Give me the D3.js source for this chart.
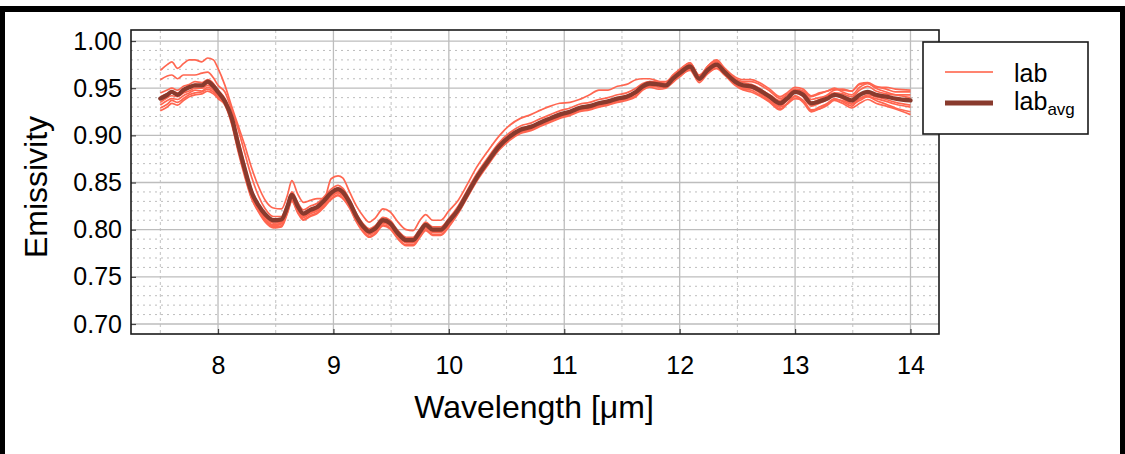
<!DOCTYPE html>
<html>
<head>
<meta charset="utf-8">
<script src="https://cdn.jsdelivr.net/npm/d3@7"></script>
<style>
  html, body { margin: 0; padding: 0; background: #fff; }
  svg { display: block; font-family: "Liberation Sans", Arial, sans-serif; }
</style>
</head>
<body>
<svg id="chart" width="1125" height="454"></svg>
<script>
// ---- data ----
const wavelengths = [7.50,7.56,7.60,7.65,7.70,7.75,7.80,7.86,7.91,7.96,8.00,
  8.06,8.12,8.17,8.23,8.29,8.35,8.41,8.48,8.55,
  8.60,8.64,8.69,8.74,8.80,8.86,8.92,8.98,9.04,9.08,
  9.14,9.20,9.26,9.31,9.36,9.43,9.49,9.56,9.63,9.69,9.75,9.80,9.86,9.93,10.00,
  10.08,10.16,10.24,10.33,10.44,10.53,10.62,10.71,10.80,10.88,10.96,11.05,11.13,11.22,11.30,11.38,11.46,11.54,11.62,
  11.68,11.74,11.82,11.88,11.94,12.01,12.09,12.17,12.24,12.32,12.39,12.48,12.55,12.62,12.69,12.78,
  12.87,12.93,13.00,13.07,13.14,13.21,13.28,13.34,13.41,13.49,13.56,13.63,13.70,13.79,13.87,14.00];

const labAvg = [.939,.943,.946,.943,.948,.951,.953,.953,.957,.952,.946,
  .936,.918,.893,.865,.840,.826,.816,.810,.811,
  .824,.837,.825,.817,.821,.824,.831,.839,.843,.840,
  .829,.814,.803,.798,.801,.810,.807,.796,.789,.789,.798,.805,.800,.800,.809,
  .821,.838,.855,.871,.889,.899,.906,.909,.914,.918,.922,.925,.929,.931,.934,.936,.939,.941,.946,
  .952,.955,.954,.953,.960,.967,.973,.960,.969,.975,.967,.957,.953,.952,.948,.941,
  .934,.939,.946,.943,.934,.936,.939,.943,.941,.937,.943,.946,.943,.941,.939,.937];

const labA = [.969,.975,.978,.971,.976,.980,.980,.978,.982,.980,.971,
  .953,.930,.912,.890,.866,.846,.831,.823,.822,
  .836,.852,.838,.829,.831,.833,.833,.854,.857,.855,
  .840,.825,.814,.808,.812,.822,.819,.808,.800,.799,.810,.816,.810,.810,.820,
  .831,.848,.866,.882,.900,.911,.918,.922,.927,.931,.934,.935,.938,.943,.948,.948,.952,.954,.959,
  .960,.960,.957,.955,.963,.971,.977,.963,.973,.980,.971,.960,.957,.957,.954,.947,
  .939,.943,.949,.947,.941,.944,.947,.949,.948,.947,.955,.956,.952,.949,.946,.946];

const labB = [.959,.963,.964,.960,.964,.964,.964,.966,.967,.961,.953,
  .946,.926,.908,.882,.856,.836,.822,.814,.814,
  .827,.840,.829,.821,.825,.828,.835,.843,.847,.844,
  .832,.817,.806,.801,.804,.813,.810,.799,.792,.792,.801,.808,.803,.803,.812,
  .825,.842,.859,.875,.893,.903,.910,.913,.918,.922,.926,.929,.933,.935,.938,.940,.943,.945,.950,
  .955,.957,.955,.953,.959,.967,.974,.958,.968,.975,.965,.954,.949,.948,.943,.936,
  .928,.934,.942,.937,.926,.930,.934,.939,.936,.931,.939,.941,.937,.933,.929,.925];

const labC = [.945,.948,.950,.948,.952,.954,.957,.956,.959,.955,.948,
  .939,.922,.898,.869,.843,.827,.816,.809,.809,
  .825,.838,.826,.818,.822,.825,.832,.840,.844,.841,
  .829,.814,.803,.798,.801,.810,.806,.795,.788,.788,.797,.804,.799,.799,.808,
  .822,.839,.856,.872,.890,.900,.907,.910,.915,.919,.923,.926,.930,.932,.935,.937,.940,.942,.947,
  .953,.957,.957,.957,.963,.969,.976,.964,.971,.978,.971,.962,.959,.959,.956,.949,
  .941,.945,.951,.949,.942,.945,.947,.950,.946,.943,.951,.955,.951,.951,.949,.948];

const labD = [.941,.944,.946,.945,.948,.951,.954,.952,.955,.952,.946,
  .937,.920,.895,.866,.840,.824,.813,.807,.808,
  .822,.835,.823,.815,.819,.822,.829,.837,.841,.838,
  .827,.812,.801,.796,.799,.808,.805,.794,.787,.787,.796,.803,.798,.798,.807,
  .820,.837,.854,.870,.888,.898,.905,.908,.913,.917,.921,.924,.928,.930,.933,.935,.938,.940,.945,
  .951,.954,.952,.952,.958,.964,.971,.959,.966,.973,.966,.955,.950,.950,.945,.937,
  .930,.933,.939,.937,.927,.928,.932,.937,.934,.929,.934,.938,.934,.931,.928,.922];

const labE = [.935,.940,.942,.941,.945,.947,.950,.950,.953,.950,.944,
  .935,.916,.890,.862,.837,.822,.811,.805,.807,
  .820,.833,.821,.813,.817,.820,.827,.835,.839,.836,
  .826,.811,.800,.795,.798,.807,.804,.793,.786,.786,.795,.802,.797,.797,.806,
  .819,.836,.853,.869,.887,.897,.904,.907,.912,.916,.920,.923,.927,.929,.932,.934,.937,.939,.944,
  .950,.953,.953,.953,.961,.969,.974,.963,.971,.976,.969,.960,.956,.954,.950,.942,
  .936,.940,.948,.946,.938,.940,.942,.945,.944,.941,.948,.952,.947,.944,.943,.943];

const labF = [.932,.937,.939,.938,.942,.945,.948,.947,.951,.948,.942,
  .934,.914,.888,.859,.834,.820,.809,.803,.804,
  .818,.831,.819,.811,.815,.818,.825,.833,.837,.834,
  .824,.809,.798,.793,.796,.805,.802,.791,.784,.784,.793,.800,.795,.795,.804,
  .818,.835,.852,.868,.886,.896,.903,.906,.911,.915,.919,.922,.926,.928,.931,.933,.936,.938,.942,
  .949,.952,.951,.951,.957,.963,.970,.958,.966,.971,.964,.953,.948,.946,.942,.935,
  .927,.933,.941,.935,.925,.928,.933,.938,.937,.933,.937,.941,.939,.936,.933,.930];

const labG = [.929,.933,.937,.935,.939,.943,.945,.946,.949,.946,.941,
  .933,.913,.887,.861,.836,.821,.810,.804,.806,
  .821,.834,.822,.814,.818,.821,.828,.836,.840,.837,
  .828,.812,.801,.796,.799,.808,.806,.795,.787,.787,.796,.803,.798,.799,.807,
  .821,.838,.855,.871,.889,.899,.906,.910,.914,.918,.922,.925,.928,.931,.934,.936,.939,.942,.946,
  .952,.956,.956,.955,.964,.970,.977,.962,.973,.979,.969,.958,.953,.951,.949,.943,
  .937,.943,.948,.943,.935,.938,.943,.948,.949,.947,.954,.955,.950,.946,.943,.940];

const labH = [.926,.930,.934,.932,.937,.941,.943,.944,.947,.944,.939,
  .932,.911,.885,.857,.833,.819,.808,.802,.803,
  .817,.830,.818,.810,.814,.817,.824,.832,.836,.833,
  .823,.808,.797,.792,.795,.804,.801,.790,.783,.783,.792,.799,.794,.794,.803,
  .817,.834,.851,.867,.885,.895,.902,.905,.910,.914,.918,.921,.925,.927,.930,.932,.935,.937,.941,
  .948,.951,.949,.950,.956,.964,.969,.956,.965,.971,.964,.955,.952,.952,.947,.939,
  .931,.937,.945,.941,.931,.934,.938,.943,.939,.934,.939,.943,.941,.938,.935,.932];

const labSeries = [labA, labB, labC, labD, labE, labF, labG, labH];

const xTicks = [8, 9, 10, 11, 12, 13, 14];
const yTicks = [0.70, 0.75, 0.80, 0.85, 0.90, 0.95, 1.00];
const legendLabels = ["lab", "lab", "avg"];

// ---- layout ----
const svg = d3.select("#chart");
const W = 1125, H = 454;
const plot = { left: 131, top: 30, right: 939, bottom: 334 };

const labColor = "#FF6650";
const labLegendColor = "#FF8470";
const avgColor = "#893A2D";

// frame
svg.append("rect").attr("x", 0).attr("y", 6).attr("width", W).attr("height", 6).attr("fill", "#000");
svg.append("rect").attr("x", 0).attr("y", 6).attr("width", 5).attr("height", H - 6).attr("fill", "#000");
svg.append("rect").attr("x", W - 5).attr("y", 6).attr("width", 5).attr("height", H - 6).attr("fill", "#000");

const x = d3.scaleLinear().domain([7.246, 14.247]).range([plot.left, plot.right]);
const y = d3.scaleLinear().domain([0.6894, 1.0117]).range([plot.bottom, plot.top]);

const g = svg.append("g");

// minor horizontal grid (every 0.01)
const yMinor = d3.range(70, 101).map(v => v / 100).filter(v => Math.round(v * 100) % 5 !== 0);
g.selectAll(".ymin").data(yMinor).join("line")
  .attr("x1", plot.left).attr("x2", plot.right)
  .attr("y1", d => y(d)).attr("y2", d => y(d))
  .attr("stroke", "#bdbdbd").attr("stroke-width", 1).attr("stroke-dasharray", "2,4");

// minor vertical grid (half units)
const xMinor = [7.5, 8.5, 9.5, 10.5, 11.5, 12.5, 13.5];
g.selectAll(".xmin").data(xMinor).join("line")
  .attr("x1", d => x(d)).attr("x2", d => x(d))
  .attr("y1", plot.top).attr("y2", plot.bottom)
  .attr("stroke", "#c2c2c2").attr("stroke-width", 1).attr("stroke-dasharray", "3,3");

// major grid
g.selectAll(".ymaj").data(yTicks).join("line")
  .attr("x1", plot.left).attr("x2", plot.right)
  .attr("y1", d => y(d)).attr("y2", d => y(d))
  .attr("stroke", "#bdbdbd").attr("stroke-width", 1.3);
g.selectAll(".xmaj").data(xTicks).join("line")
  .attr("x1", d => x(d)).attr("x2", d => x(d))
  .attr("y1", plot.top).attr("y2", plot.bottom)
  .attr("stroke", "#bdbdbd").attr("stroke-width", 1.3);

// lines
const line = d3.line()
  .x((d, i) => x(wavelengths[i]))
  .y(d => y(d))
  .curve(d3.curveMonotoneX);

g.selectAll(".lab").data(labSeries).join("path")
  .attr("d", d => line(d))
  .attr("fill", "none")
  .attr("stroke", labColor)
  .attr("stroke-width", 1.7)
  .attr("stroke-linejoin", "round");

g.append("path")
  .attr("d", line(labAvg))
  .attr("fill", "none")
  .attr("stroke", avgColor)
  .attr("stroke-width", 4.3)
  .attr("stroke-linejoin", "round")
  .attr("stroke-linecap", "round");

// axes
const yAxis = d3.axisLeft(y).tickValues(yTicks).tickFormat(d3.format(".2f"))
  .tickSizeInner(-5).tickSizeOuter(0).tickPadding(9);
const yg = svg.append("g").attr("transform", `translate(${plot.left},0)`).call(yAxis);
yg.select(".domain").remove();
yg.selectAll("line").attr("stroke", "#444").attr("stroke-width", 1.2);
yg.selectAll("text").attr("font-size", 25).attr("fill", "#000")
  .attr("font-family", "'Liberation Sans', Arial, sans-serif");

const xAxis = d3.axisBottom(x).tickValues(xTicks).tickFormat(d3.format("d"))
  .tickSizeInner(-5).tickSizeOuter(0).tickPadding(22);
const xg = svg.append("g").attr("transform", `translate(0,${plot.bottom})`).call(xAxis);
xg.select(".domain").remove();
xg.selectAll("line").attr("stroke", "#444").attr("stroke-width", 1.2);
xg.selectAll("text").attr("font-size", 25).attr("fill", "#000")
  .attr("font-family", "'Liberation Sans', Arial, sans-serif");

// plot border
svg.append("rect")
  .attr("x", plot.left).attr("y", plot.top)
  .attr("width", plot.right - plot.left).attr("height", plot.bottom - plot.top)
  .attr("fill", "none").attr("stroke", "#1a1a1a").attr("stroke-width", 1.6);

// axis titles
svg.append("text")
  .attr("x", 534).attr("y", 418)
  .attr("text-anchor", "middle").attr("font-size", 32).attr("fill", "#000")
  .text("Wavelength [μm]");

svg.append("text")
  .attr("transform", `translate(47,${187}) rotate(-90)`)
  .attr("text-anchor", "middle").attr("font-size", 32).attr("fill", "#000")
  .text("Emissivity");

// legend
const lg = svg.append("g");
lg.append("rect").attr("x", 923).attr("y", 42).attr("width", 165).attr("height", 92)
  .attr("fill", "#fff").attr("stroke", "#1a1a1a").attr("stroke-width", 1.6);
lg.append("line").attr("x1", 945).attr("x2", 993).attr("y1", 72).attr("y2", 72)
  .attr("stroke", labLegendColor).attr("stroke-width", 2);
lg.append("line").attr("x1", 945).attr("x2", 993).attr("y1", 103).attr("y2", 103)
  .attr("stroke", avgColor).attr("stroke-width", 5);
lg.append("text").attr("x", 1014).attr("y", 82).attr("font-size", 25).attr("fill", "#000")
  .text(legendLabels[0]);
const t2 = lg.append("text").attr("x", 1014).attr("y", 110).attr("font-size", 25).attr("fill", "#000");
t2.append("tspan").text(legendLabels[1]);
t2.append("tspan").attr("font-size", 17).attr("dy", 5).text(legendLabels[2]);
</script>
</body>
</html>
